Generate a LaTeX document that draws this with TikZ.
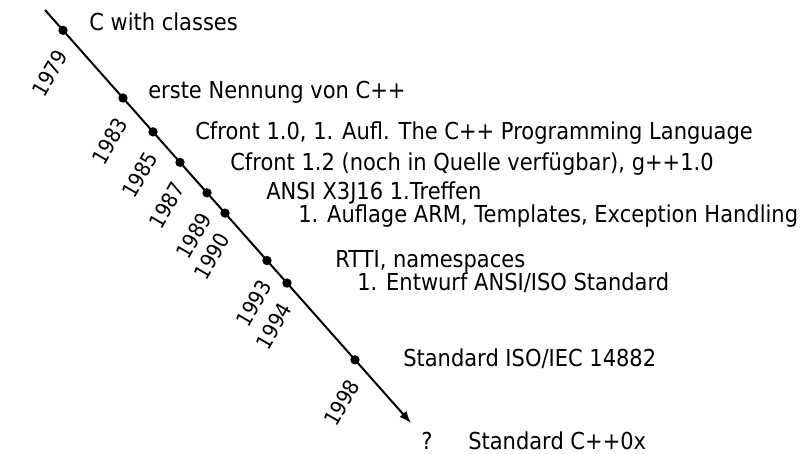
\documentclass[tikz,border=0pt]{standalone}
\usepackage{fontspec}
\setmainfont{DejaVu Sans}[FakeStretch=0.9]
\usetikzlibrary{calc,arrows.meta}
\begin{document}
\begin{tikzpicture}[x=0.75pt,y=-0.75pt,
  font=\fontsize{17.5}{20}\selectfont,
  evt/.style={anchor=base west, inner sep=0pt},
  yr/.style={rotate=60, inner sep=0pt, font=\fontsize{16}{18}\selectfont},
  dot/.style={circle, fill=black, inner sep=0pt, minimum size=7pt},
  tl/.style={line width=1.5pt, -{Latex[length=9pt,width=7pt]}}]
\useasboundingbox (0,0) rectangle (801,454);
\coordinate (s) at (45,10);
\coordinate (e) at (411,423);
\draw[tl] (s) -- (e);
% dots
\foreach \yy/\t in {1979/0.0492,1983/0.2131,1985/0.2951,1987/0.3689,1989/0.4426,1990/0.4918,1993/0.6066,1994/0.6612,1998/0.8470}{
  \node[dot] (d\yy) at ($(s)!\t!(e)$) {};
  \node[yr] (y\yy) at ($(d\yy)+(-13,43)$) {\yy};
}
% events
\node[evt] (t1) at (89,30) {C with classes};
\node[evt] (t2) at (148,98) {erste Nennung von C++};
\node[evt] (t3) at (195,139) {Cfront 1.0, 1. Aufl. The C++ Programming Language};
\node[evt] (t4) at (230,170) {Cfront 1.2 (noch in Quelle verfügbar), g++1.0};
\node[evt] (t5) at (266,199) {ANSI X3J16 1.Treffen};
\node[evt] (t6) at (298,222) {1. Auflage ARM, Templates, Exception Handling};
\node[evt] (t7) at (335,267) {RTTI, namespaces};
\node[evt] (t8) at (357,290) {1. Entwurf ANSI/ISO Standard};
\node[evt] (t9) at (403,366) {Standard ISO/IEC 14882};
\node[evt] (q) at (421,449) {?};
\node[evt] (t10) at (468,449) {Standard C++0x};
\end{tikzpicture}
\end{document}
